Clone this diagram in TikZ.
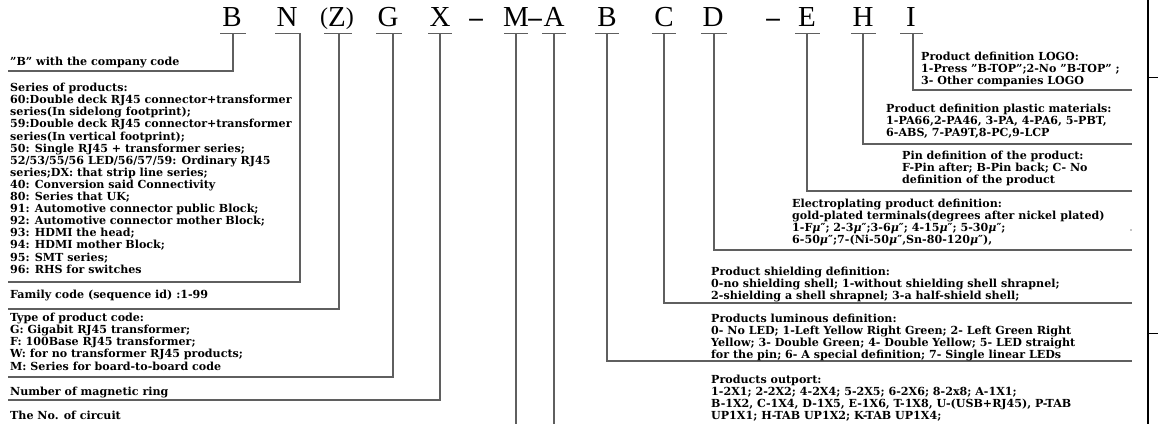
\documentclass[tikz,border=0pt]{standalone}
\usepackage{fontspec}
\setmainfont{DejaVu Serif}
\newfontfamily\bigserif{Liberation Serif}
\definecolor{linec}{RGB}{95,95,95}
\newcommand\myMu{\textit{μ}″}
\newcommand\smallparen[1]{\raisebox{1.5pt}{\fontsize{24}{24}\selectfont #1}}
\begin{document}
\begin{tikzpicture}[x=1pt,y=-1pt,
  lead/.style={draw=linec, line width=1.1pt},
  ul/.style={draw=linec, line width=1pt},
  code/.style={font=\bigserif\fontsize{29}{29}\selectfont, inner sep=0pt, anchor=base},
  dashc/.style={font=\bigserif\bfseries\fontsize{27}{27}\selectfont, inner sep=0pt, anchor=base},
  desc/.style={font=\bfseries\fontsize{11.1}{12.1}\selectfont, inner sep=0pt, anchor=north west, align=left},
]
\useasboundingbox (0,0) rectangle (1158,424);

% code letters
\node[code] (cB)  at (232,26) {B};
\node[code] (cN)  at (287,26) {N};
\node[code] (cZ)  at (337,26) {\smallparen{(}Z\smallparen{)}};
\node[code] (cG)  at (388,26) {G};
\node[code] (cX)  at (440,26) {X};
\node[dashc] (d1) at (476,26) {–};
\node[code] (cM)  at (516,26) {M};
\node[dashc] (d2) at (535,26) {–};
\node[code] (cA)  at (554,26) {A};
\node[code] (cB2) at (607,26) {B};
\node[code] (cC)  at (664,26) {C};
\node[code] (cD)  at (713,26) {D};
\node[dashc] (d3) at (773,26) {–};
\node[code] (cE)  at (807,26) {E};
\node[code] (cH)  at (863,26) {H};
\node[code] (cI)  at (911,26) {I};

% underlines
\draw[ul] (220,33) -- (246,33);
\draw[ul] (275,33) -- (300,33);
\draw[ul] (324,33) -- (352,33);
\draw[ul] (376,33) -- (402,33);
\draw[ul] (428,33) -- (452,33);
\draw[ul] (504,33) -- (528,33);
\draw[ul] (542,33) -- (566,33);
\draw[ul] (595,33) -- (619,33);
\draw[ul] (652,33) -- (676,33);
\draw[ul] (701,33) -- (727,33);
\draw[ul] (795,33) -- (820,33);
\draw[ul] (851,33) -- (876,33);
\draw[ul] (900,33) -- (923,33);

% connector coordinates
\coordinate (tB) at (233,33);  \coordinate (kB) at (233,71);  \coordinate (eB) at (8,71);
\coordinate (tN) at (300,33);  \coordinate (kN) at (300,282); \coordinate (eN) at (8,282);
\coordinate (tZ) at (339,33);  \coordinate (kZ) at (339,309); \coordinate (eZ) at (8,309);
\coordinate (tG) at (393,33);  \coordinate (kG) at (393,377); \coordinate (eG) at (8,377);
\coordinate (tX) at (440,33);  \coordinate (kX) at (440,400); \coordinate (eX) at (8,400);
\coordinate (tM) at (516,33);  \coordinate (eM) at (516,424);
\coordinate (tA) at (554,33);  \coordinate (eA) at (554,424);
\coordinate (tB2) at (607,33); \coordinate (kB2) at (607,361); \coordinate (eB2) at (1132,361);
\coordinate (tC) at (664,33);  \coordinate (kC) at (664,303); \coordinate (eC) at (1132,303);
\coordinate (tD) at (714,33);  \coordinate (kD) at (714,250); \coordinate (eD) at (1132,250);
\coordinate (tE) at (807,33);  \coordinate (kE) at (807,191); \coordinate (eE) at (1132,191);
\coordinate (tH) at (863,33);  \coordinate (kH) at (863,144); \coordinate (eH) at (1132,144);
\coordinate (tI) at (913,33);  \coordinate (kI) at (913,90);  \coordinate (eI) at (1132,90);

\draw[lead] (tB) -- (kB) -- (eB);
\draw[lead] (tN) -- (kN) -- (eN);
\draw[lead] (tZ) -- (kZ) -- (eZ);
\draw[lead] (tG) -- (kG) -- (eG);
\draw[lead] (tX) -- (kX) -- (eX);
\draw[lead] (tM) -- (eM);
\draw[lead] (tA) -- (eA);
\draw[lead] (tB2) -- (kB2) -- (eB2);
\draw[lead] (tC) -- (kC) -- (eC);
\draw[lead] (tD) -- (kD) -- (eD);
\draw[lead] (tE) -- (kE) -- (eE);
\draw[lead] (tH) -- (kH) -- (eH);
\draw[lead] (tI) -- (kI) -- (eI);

% right border
\coordinate (rt) at (1148,0); \coordinate (rb) at (1148,424);
\coordinate (r1a) at (1148,77); \coordinate (r1b) at (1158,77);
\coordinate (r2a) at (1148,333); \coordinate (r2b) at (1158,333);
\draw[line width=1.4pt] (rt) -- (rb);
\draw[line width=1pt] (r1a) -- (r1b);
\draw[line width=1pt] (r2a) -- (r2b);
\fill (1131,230) circle (0.7);

% left descriptions
\node[desc] (tcomp) at (10,57) {"B" with the company code};
\node[desc] (tser) at (10,83) {Series of products:\\
60:Double deck RJ45 connector+transformer\\
series(In sidelong footprint);\\
59:Double deck RJ45 connector+transformer\\
series(In vertical footprint);\\
50: Single RJ45 + transformer series;\\
52/53/55/56 LED/56/57/59: Ordinary RJ45\\
series;DX: that strip line series;\\
40: Conversion said Connectivity\\
80: Series that UK;\\
91: Automotive connector public Block;\\
92: Automotive connector mother Block;\\
93: HDMI the head;\\
94: HDMI mother Block;\\
95: SMT series;\\
96: RHS for switches};
\node[desc] (tfam) at (10,290) {Family code (sequence id) :1-99};
\node[desc] (ttype) at (10,313) {Type of product code:\\
G: Gigabit RJ45 transformer;\\
F: 100Base RJ45 transformer;\\
W: for no transformer RJ45 products;\\
M: Series for board-to-board code};
\node[desc] (tring) at (10,387) {Number of magnetic ring};
\node[desc] (tcirc) at (10,411) {The No. of circuit};

% right descriptions
\node[desc] (tlogo) at (921,52) {Product definition LOGO:\\
1-Press "B-TOP";2-No "B-TOP" ;\\
3- Other companies LOGO};
\node[desc] (tplas) at (886,104) {Product definition plastic materials:\\
1-PA66,2-PA46, 3-PA, 4-PA6, 5-PBT,\\
6-ABS, 7-PA9T,8-PC,9-LCP};
\node[desc] (tpin) at (902,151) {Pin definition of the product:\\
F-Pin after; B-Pin back; C- No\\
definition of the product};
\node[desc] (telec) at (792,199) {Electroplating product definition:\\
gold-plated terminals(degrees after nickel plated)\\
1-F\myMu; 2-3\myMu;3-6\myMu; 4-15\myMu; 5-30\myMu;\\
6-50\myMu;7-(Ni-50\myMu,Sn-80-120\myMu),};
\node[desc] (tshield) at (711,267) {Product shielding definition:\\
0-no shielding shell; 1-without shielding shell shrapnel;\\
2-shielding a shell shrapnel; 3-a half-shield shell;};
\node[desc] (tlum) at (711,314) {Products luminous definition:\\
0- No LED; 1-Left Yellow Right Green; 2- Left Green Right\\
Yellow; 3- Double Green; 4- Double Yellow; 5- LED straight\\
for the pin; 6- A special definition; 7- Single linear LEDs};
\node[desc] (tout) at (711,375) {Products outport:\\
1-2X1; 2-2X2; 4-2X4; 5-2X5; 6-2X6; 8-2x8; A-1X1;\\
B-1X2, C-1X4, D-1X5, E-1X6, T-1X8, U-(USB+RJ45), P-TAB\\
UP1X1; H-TAB UP1X2; K-TAB UP1X4;};
\end{tikzpicture}
\end{document}
